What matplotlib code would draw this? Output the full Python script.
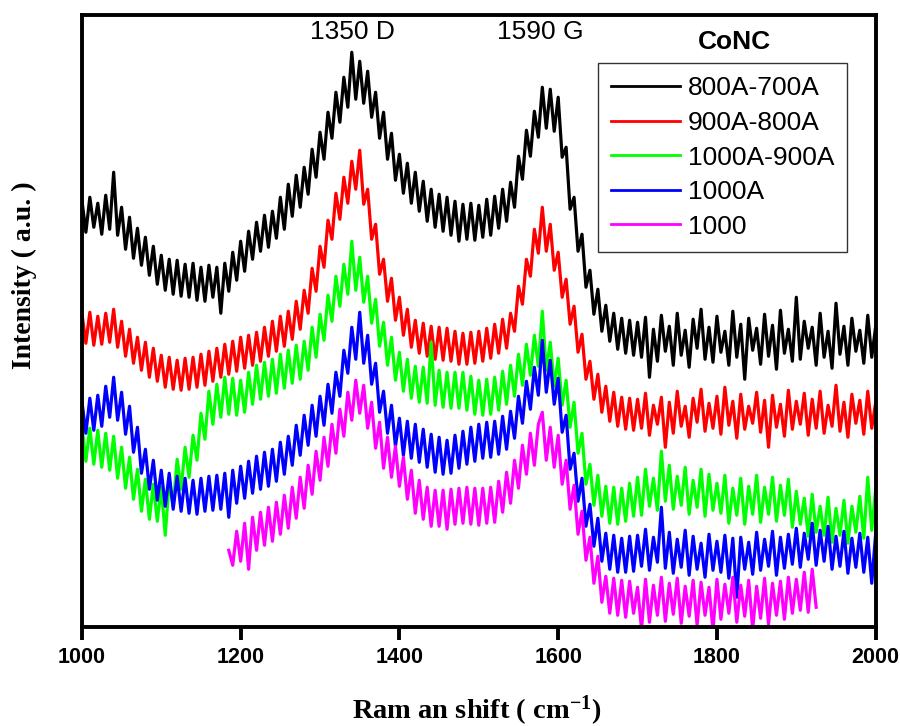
import numpy as np
import matplotlib
matplotlib.use("Agg")
import matplotlib.pyplot as plt

plt.rcParams['font.family'] = ['Liberation Sans', 'DejaVu Sans']
plt.rcParams['mathtext.fontset'] = 'custom'
plt.rcParams['mathtext.rm'] = 'Liberation Serif:bold'
plt.rcParams['mathtext.bf'] = 'Liberation Serif:bold'
plt.rcParams['mathtext.it'] = 'Liberation Serif:bold'

# Raman shift grid (cm-1) and intensities (a.u., stacked)
shift = np.arange(1000, 2001, 5)
shift_1000 = np.arange(1185, 1926, 5)

conc_800_700 = [
    427, 395, 430, 400, 424, 393, 432, 398, 455, 392,
    420, 378, 410, 369, 399, 362, 390, 352, 381, 343,
    372, 337, 368, 333, 367, 331, 363, 330, 364, 327,
    360, 326, 362, 330, 360, 314, 364, 336, 375, 347,
    386, 356, 396, 368, 405, 376, 412, 380, 416, 389,
    430, 398, 443, 411, 452, 420, 460, 433, 478, 450,
    495, 468, 515, 489, 535, 505, 550, 520, 575, 528,
    566, 524, 556, 510, 535, 489, 515, 468, 494, 447,
    473, 434, 464, 424, 455, 416, 446, 406, 438, 400,
    433, 396, 430, 392, 426, 386, 423, 388, 424, 387,
    422, 390, 428, 392, 431, 399, 438, 406, 445, 420,
    471, 448, 497, 471, 516, 490, 540, 499, 538, 496,
    530, 470, 480, 418, 430, 376, 393, 340, 357, 313,
    338, 296, 322, 286, 314, 278, 309, 274, 307, 272,
    305, 270, 310, 250, 298, 266, 312, 276, 301, 262,
    314, 272, 297, 260, 308, 279, 318, 268, 300, 265,
    311, 275, 296, 262, 316, 270, 303, 248, 309, 277,
    299, 263, 313, 271, 302, 258, 317, 274, 298, 266,
    330, 268, 306, 279, 300, 262, 314, 270, 296, 259,
    324, 273, 301, 262, 309, 276, 297, 264, 312, 270,
    301,
]
conc_900_800 = [
    314, 284, 315, 282, 311, 283, 314, 285, 318, 280,
    306, 271, 298, 264, 290, 257, 285, 250, 279, 246,
    272, 240, 270, 238, 267, 237, 269, 238, 270, 240,
    273, 242, 276, 246, 279, 250, 283, 253, 286, 256,
    290, 259, 292, 262, 295, 266, 300, 271, 306, 276,
    311, 281, 316, 288, 326, 298, 337, 314, 359, 336,
    381, 360, 407, 388, 434, 408, 450, 424, 466, 438,
    477, 423, 438, 388, 403, 353, 368, 326, 349, 307,
    330, 292, 318, 280, 307, 274, 304, 271, 301, 268,
    300, 267, 299, 266, 296, 263, 294, 263, 295, 264,
    296, 266, 299, 269, 303, 274, 308, 279, 314, 296,
    341, 323, 368, 351, 398, 374, 420, 376, 403, 357,
    375, 330, 348, 303, 321, 275, 293, 248, 266, 228,
    253, 215, 241, 206, 235, 201, 230, 198, 229, 197,
    228, 199, 234, 192, 222, 203, 230, 180, 225, 194,
    236, 201, 221, 190, 229, 205, 238, 196, 224, 199,
    231, 193, 240, 202, 226, 189, 233, 198, 221, 204,
    235, 195, 227, 180, 232, 200, 223, 191, 237, 198,
    226, 203, 234, 192, 228, 199, 236, 194, 222, 201,
    242, 196, 225, 190, 233, 204, 227, 193, 236, 199,
    225,
]
conc_1000_900 = [
    202, 166, 199, 163, 197, 160, 194, 157, 191, 149,
    180, 139, 170, 128, 158, 116, 148, 108, 143, 106,
    140, 92, 146, 121, 168, 138, 180, 150, 192, 167,
    214, 188, 236, 203, 243, 210, 250, 213, 249, 212,
    247, 215, 255, 223, 262, 228, 265, 231, 268, 234,
    273, 239, 277, 244, 282, 248, 286, 257, 300, 270,
    313, 287, 332, 306, 351, 321, 363, 333, 386, 337,
    370, 325, 351, 304, 328, 281, 305, 262, 290, 247,
    275, 236, 268, 229, 261, 225, 260, 224, 285, 222,
    257, 220, 255, 219, 255, 219, 255, 217, 251, 213,
    247, 212, 248, 213, 250, 217, 256, 223, 262, 231,
    273, 242, 283, 252, 292, 261, 316, 257, 285, 241,
    269, 222, 247, 200, 225, 174, 194, 143, 163, 122,
    152, 111, 141, 104, 140, 103, 139, 106, 144, 111,
    150, 112, 158, 121, 149, 117, 176, 126, 162, 118,
    151, 122, 160, 113, 147, 120, 158, 111, 153, 117,
    144, 114, 152, 104, 139, 112, 149, 103, 141, 113,
    152, 105, 140, 113, 150, 106, 142, 112, 148, 100,
    136, 103, 129, 91, 133, 95, 121, 92, 130, 85,
    119, 92, 127, 84, 121, 95, 131, 89, 150, 97,
    138,
]
conc_1000a = [
    226, 194, 229, 197, 232, 201, 241, 210, 250, 207,
    235, 193, 221, 175, 200, 154, 178, 138, 167, 127,
    157, 121, 154, 118, 151, 116, 149, 114, 147, 113,
    149, 116, 151, 117, 152, 118, 154, 110, 157, 124,
    161, 129, 166, 134, 171, 138, 175, 141, 178, 146,
    185, 153, 191, 162, 202, 172, 212, 182, 222, 191,
    231, 202, 243, 214, 255, 231, 277, 254, 300, 268,
    315, 264, 292, 243, 264, 215, 236, 194, 222, 181,
    209, 172, 206, 169, 203, 165, 198, 160, 193, 155,
    190, 153, 187, 154, 192, 159, 196, 163, 200, 166,
    203, 169, 205, 170, 206, 173, 211, 178, 216, 189,
    231, 204, 246, 218, 260, 232, 287, 235, 267, 223,
    249, 195, 212, 158, 174, 126, 149, 101, 123, 81,
    109, 66, 94, 58, 92, 55, 89, 55, 91, 56,
    92, 61, 98, 57, 90, 65, 120, 59, 95, 54,
    88, 60, 97, 52, 91, 58, 84, 50, 93, 57,
    86, 55, 92, 49, 89, 30, 90, 58, 85, 53,
    95, 57, 88, 61, 96, 52, 90, 59, 93, 63,
    99, 60, 94, 68, 104, 62, 97, 66, 101, 58,
    91, 61, 96, 54, 89, 60, 94, 55, 90, 44,
    94,
]
conc_1000 = [
    77, 62, 96, 66, 104, 58, 110, 77, 115, 82,
    120, 86, 125, 93, 132, 99, 140, 109, 150, 119,
    162, 133, 176, 147, 190, 161, 203, 174, 218, 191,
    235, 207, 247, 214, 242, 199, 225, 179, 205, 159,
    190, 150, 181, 141, 170, 128, 157, 114, 147, 108,
    140, 101, 137, 101, 137, 98, 138, 103, 139, 104,
    140, 103, 139, 102, 139, 104, 140, 105, 146, 115,
    155, 124, 167, 139, 182, 153, 194, 162, 203, 215,
    167, 200, 160, 192, 143, 167, 118, 142, 93, 116,
    67, 90, 44, 71, 25, 51, 14, 49, 12, 47,
    10, 46, 14, 40, -2, 48, 5, 42, 12, 50,
    6, 44, 13, 49, 4, 41, 11, 47, 2, 45,
    12, 40, -3, 48, 8, 43, 14, 50, 5, 42,
    11, 47, -2, 41, 9, 49, 3, 44, 12, 46,
    8, 50, 14, 48, 17, 55, 15, 58, 20,
]

fig = plt.figure(figsize=(9, 7.26), dpi=100)
ax = fig.add_axes([0.091, 0.136, 0.882, 0.843])

lw = 2.3
ax.plot(shift, conc_800_700, color='#000000', lw=lw, label='800A-700A')
ax.plot(shift, conc_900_800, color='#ff0000', lw=lw, label='900A-800A')
ax.plot(shift, conc_1000_900, color='#00ff00', lw=lw, label='1000A-900A')
ax.plot(shift, conc_1000a, color='#0000ff', lw=lw, label='1000A')
ax.plot(shift_1000, conc_1000, color='#ff00ff', lw=lw, label='1000')

ax.set_xlim(1000, 2000)
ax.set_ylim(0, 612)
ax.set_xticks([1000, 1200, 1400, 1600, 1800, 2000])
ax.set_yticks([])
for s in ax.spines.values():
    s.set_linewidth(2.8)
ax.tick_params(axis='x', direction='out', length=9, width=2.8, pad=5,
               labelsize=15.5)
for t in ax.get_xticklabels():
    t.set_fontweight('bold')

ax.text(1341, 595, '1350 D', ha='center', va='center', fontsize=19)
ax.text(1577, 595, '1590 G', ha='center', va='center', fontsize=19)
ax.text(1822, 585, 'CoNC', ha='center', va='center', fontsize=19,
        fontweight='bold')

leg = ax.legend(loc='upper left', bbox_to_anchor=(0.650, 0.9216),
                fontsize=19, handlelength=2.6, handletextpad=0.3,
                labelspacing=0.4, borderpad=0.5, borderaxespad=0,
                fancybox=False, framealpha=1)
leg.get_frame().set_edgecolor('#333333')
leg.get_frame().set_linewidth(1.0)
for line in leg.get_lines():
    line.set_linewidth(2.0)

ax.set_ylabel('Intensity ( a.u. )', fontfamily='Liberation Serif',
              fontweight='bold', fontsize=20)
ax.yaxis.set_label_coords(-0.056, 0.575)
ax.set_xlabel('Ram an shift ( cm$^{-1}$)', fontfamily='Liberation Serif',
              fontweight='bold', fontsize=20.5)
ax.xaxis.set_label_coords(0.497, -0.108)

fig.savefig('out.png', dpi=100)
plt.close(fig)
